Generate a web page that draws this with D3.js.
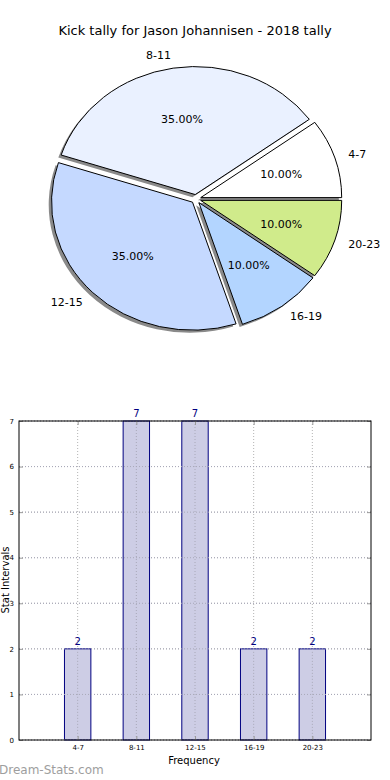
<!DOCTYPE html>
<html>
<head>
<meta charset="utf-8">
<script src="https://cdn.jsdelivr.net/npm/d3@7"></script>
<style>
  body { margin: 0; background: #fff; }
  svg { display: block; font-family: "DejaVu Sans", sans-serif; }
</style>
</head>
<body>
<svg id="chart" width="390" height="780"></svg>
<script>
"use strict";

// data
const categories = ["4-7", "8-11", "12-15", "16-19", "20-23"];
const counts = [2, 7, 7, 2, 2];
const pieColors = ["#ffffff", "#eaf1ff", "#c5d9ff", "#b3d5ff", "#d0eb8b"];
const yTicks = [0, 1, 2, 3, 4, 5, 6, 7];
const title = "Kick tally for Jason Johannisen - 2018 tally";

const svg = d3.select("#chart");
const total = d3.sum(counts);

// ---- pie (stretched to an ellipse like the original) ----
const cx = 196, cy = 199, rx = 141, ry = 128;
const explode = 0.035;

svg.append("text")
  .attr("x", 195).attr("y", 35)
  .attr("text-anchor", "middle")
  .attr("font-size", 13)
  .text(title);

// counterclockwise from 3 o'clock
const pie = d3.pie().sort(null)
  .startAngle(Math.PI / 2)
  .endAngle(Math.PI / 2 - 2 * Math.PI);
const arcs = pie(counts);
const arc = d3.arc().innerRadius(0).outerRadius(1);

const pieG = svg.append("g")
  .attr("transform", `translate(${cx},${cy}) scale(${rx},${ry})`);

function offs(d, k) {
  const a = (d.startAngle + d.endAngle) / 2;
  return [k * Math.sin(a), -k * Math.cos(a)];
}

// shadows
pieG.selectAll("path.shadow")
  .data(arcs)
  .enter()
  .append("path")
  .attr("class", "shadow")
  .attr("d", arc)
  .attr("fill", "#8a8a8a")
  .attr("transform", d => {
    const o = offs(d, explode);
    return `translate(${o[0] - 0.02},${o[1] + 0.02})`;
  });

pieG.selectAll("path.slice")
  .data(arcs)
  .enter()
  .append("path")
  .attr("class", "slice")
  .attr("d", arc)
  .attr("fill", (d, i) => pieColors[i])
  .attr("stroke", "#000")
  .attr("stroke-width", 1)
  .attr("vector-effect", "non-scaling-stroke")
  .attr("transform", d => {
    const o = offs(d, explode);
    return `translate(${o[0]},${o[1]})`;
  });

// labels outside, percentages inside
arcs.forEach((d, i) => {
  const a = (d.startAngle + d.endAngle) / 2;
  const sx = Math.sin(a), sy = -Math.cos(a);
  const o = offs(d, explode);
  const lx = cx + (o[0] + 1.1 * sx) * rx;
  const ly = cy + (o[1] + 1.1 * sy) * ry;
  svg.append("text")
    .attr("x", lx).attr("y", ly)
    .attr("dy", "0.35em")
    .attr("text-anchor", sx >= 0 ? "start" : "end")
    .attr("font-size", 11)
    .text(categories[i]);
  const px = cx + (o[0] + 0.6 * sx) * rx;
  const py = cy + (o[1] + 0.6 * sy) * ry;
  svg.append("text")
    .attr("x", px).attr("y", py)
    .attr("dy", "0.35em")
    .attr("text-anchor", "middle")
    .attr("font-size", 11)
    .text((counts[i] / total * 100).toFixed(2) + "%");
});

// ---- bar chart ----
const pLeft = 19, pRight = 371, pTop = 421, pBottom = 740;
const xScale = d3.scaleLinear().domain([0, 6]).range([pLeft, pRight]);
const yScale = d3.scaleLinear().domain([0, 7]).range([pBottom, pTop]);
const barW = 0.45;

const chart = svg.append("g");

// grid
chart.selectAll("line.gy")
  .data(yTicks)
  .enter()
  .append("line")
  .attr("x1", pLeft).attr("x2", pRight)
  .attr("y1", d => yScale(d)).attr("y2", d => yScale(d))
  .attr("stroke", "#b4b4b4")
  .attr("stroke-dasharray", "1,2");
chart.selectAll("line.gx")
  .data(categories)
  .enter()
  .append("line")
  .attr("x1", (d, i) => xScale(i + 1)).attr("x2", (d, i) => xScale(i + 1))
  .attr("y1", pTop).attr("y2", pBottom)
  .attr("stroke", "#b4b4b4")
  .attr("stroke-dasharray", "1,2");

// bars
chart.selectAll("rect.bar")
  .data(counts)
  .enter()
  .append("rect")
  .attr("class", "bar")
  .attr("x", (d, i) => xScale(i + 1 - barW / 2))
  .attr("y", d => yScale(d))
  .attr("width", xScale(barW) - xScale(0))
  .attr("height", d => pBottom - yScale(d))
  .attr("fill", "#cdcde5")
  .attr("stroke", "#000080")
  .attr("stroke-width", 1);

// grid over bars
chart.selectAll("line.gx2")
  .data(counts)
  .enter()
  .append("line")
  .attr("x1", (d, i) => xScale(i + 1)).attr("x2", (d, i) => xScale(i + 1))
  .attr("y1", d => yScale(d)).attr("y2", pBottom)
  .attr("stroke", "#a8a8b8")
  .attr("stroke-dasharray", "1,2");
chart.selectAll("line.gy2")
  .data(yTicks)
  .enter()
  .append("line")
  .attr("x1", pLeft).attr("x2", pRight)
  .attr("y1", d => yScale(d)).attr("y2", d => yScale(d))
  .attr("stroke", "#a8a8b8")
  .attr("stroke-dasharray", "1,2");

// value labels
chart.selectAll("text.val")
  .data(counts)
  .enter()
  .append("text")
  .attr("x", (d, i) => xScale(i + 1))
  .attr("y", d => yScale(d) - 4)
  .attr("text-anchor", "middle")
  .attr("font-size", 10)
  .attr("fill", "#000080")
  .text(d => d);

// axes
const yAxis = chart.append("g")
  .attr("transform", `translate(${pLeft},0)`)
  .call(d3.axisLeft(yScale).tickValues(yTicks).tickFormat(d3.format("d"))
    .tickSize(-4).tickPadding(5));
const yAxisR = chart.append("g")
  .attr("transform", `translate(${pRight},0)`)
  .call(d3.axisRight(yScale).tickValues(yTicks).tickSize(-4).tickFormat(""));
const xAxis = chart.append("g")
  .attr("transform", `translate(0,${pBottom})`)
  .call(d3.axisBottom(xScale).tickValues([1, 2, 3, 4, 5])
    .tickFormat(d => categories[d - 1]).tickSize(-4).tickPadding(5));
const xAxisT = chart.append("g")
  .attr("transform", `translate(0,${pTop})`)
  .call(d3.axisTop(xScale).tickValues([1, 2, 3, 4, 5]).tickSize(-4).tickFormat(""));

[yAxis, yAxisR, xAxis, xAxisT].forEach(g => {
  g.select(".domain").remove();
  g.selectAll("text").attr("font-size", 7).attr("font-family", "DejaVu Sans, sans-serif").attr("fill", "#000");
  g.selectAll("line").attr("stroke", "#999");
});

chart.append("rect")
  .attr("x", pLeft).attr("y", pTop)
  .attr("width", pRight - pLeft).attr("height", pBottom - pTop)
  .attr("fill", "none")
  .attr("stroke", "#000")
  .attr("stroke-width", 1);

svg.append("text")
  .attr("x", 194).attr("y", 764)
  .attr("text-anchor", "middle")
  .attr("font-size", 10)
  .text("Frequency");

svg.append("text")
  .attr("transform", `translate(5,580) rotate(-90)`)
  .attr("text-anchor", "middle")
  .attr("dy", "0.35em")
  .attr("font-size", 10)
  .text("Stat Intervals");

svg.append("text")
  .attr("x", -1).attr("y", 774)
  .attr("font-size", 12)
  .attr("fill", "#9e9e9e")
  .text("Dream-Stats.com");
</script>
</body>
</html>
